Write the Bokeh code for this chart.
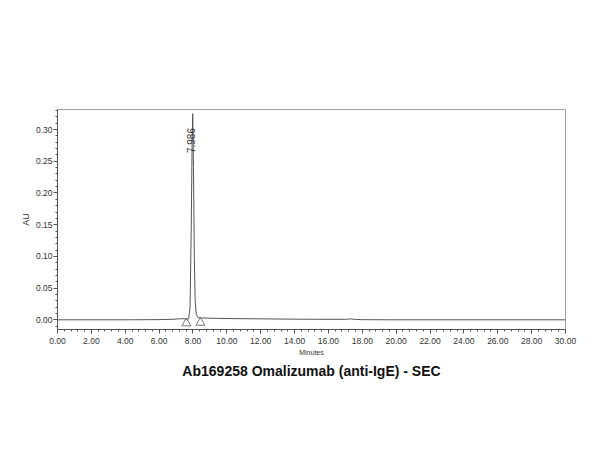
from bokeh.plotting import figure
from bokeh.models import SingleIntervalTicker, NumeralTickFormatter, Title
from bokeh.core.properties import value
from bokeh.embed import file_html
from bokeh.resources import INLINE

# chromatogram data (minutes, AU)
minutes = [0.0, 2.0, 4.0, 6.0, 6.8, 7.2, 7.4, 7.6, 7.75, 7.83, 7.9, 7.95, 7.986, 8.03, 8.08, 8.13, 8.2, 8.3,
           8.5, 9.0, 10.0, 12.0, 14.0, 15.5, 17.0, 17.3, 17.6, 18.0, 20.0, 30.0]
au = [0.000, 0.000, 0.000, 0.0003, 0.0008, 0.0015, 0.0018, 0.0010, 0.0015, 0.02, 0.15, 0.28, 0.325, 0.24,
      0.10, 0.03, 0.008, 0.0035, 0.003, 0.0025, 0.002, 0.0015, 0.001, 0.0008, 0.0008, 0.0014, 0.0006,
      0.0002, 0.0, 0.0]

peak_time = [7.986]
peak_label = ["7.986"]
marker_times = [7.61, 8.44]
marker_au = [-0.0055, -0.0045]

title_text = "Ab169258 Omalizumab (anti-IgE) - SEC"
x_label = "Minutes"
y_label = "AU"

W, H = 584, 434
p = figure(width=W, height=H, x_range=(0, 30), y_range=(-0.0153, 0.3317),
           output_backend="svg", toolbar_location=None,
           min_border_left=57, min_border_right=W - 565, min_border_top=109, min_border_bottom=H - 329)
p.background_fill_color = "white"
p.border_fill_color = "white"
p.outline_line_color = "#a0a0a0"
p.outline_line_width = 1
p.xgrid.visible = False
p.ygrid.visible = False

p.line(minutes, au, line_color="#555555", line_width=1)

p.scatter(marker_times, marker_au, marker="triangle", size=9, fill_color=None,
          line_color="#555555", line_width=0.8)

p.text(x=[t - 0.08 for t in peak_time], y=[0.263], text=peak_label, angle=1.5708,
       text_font=value("Liberation Sans"), text_font_size="10px", text_color="#333333",
       text_align="left", text_baseline="middle")

for ax in (p.xaxis[0], p.yaxis[0]):
    ax.axis_line_color = "#555555"
    ax.major_tick_line_color = "#555555"
    ax.minor_tick_line_color = "#555555"
    ax.major_tick_out = 4
    ax.major_tick_in = 0
    ax.minor_tick_out = 2
    ax.minor_tick_in = 0
    ax.major_label_text_font = "Liberation Sans"
    ax.major_label_text_font_size = "8.5px"
    ax.major_label_text_color = "#333333"
    ax.axis_label_text_font = "Liberation Sans"
    ax.axis_label_text_font_style = "normal"
    ax.axis_label_text_color = "#333333"
    ax.formatter = NumeralTickFormatter(format="0.00")

p.xaxis[0].ticker = SingleIntervalTicker(interval=2, num_minor_ticks=5)
p.yaxis[0].ticker = SingleIntervalTicker(interval=0.05, num_minor_ticks=5)
p.xaxis[0].axis_label = x_label
p.xaxis[0].axis_label_text_font_size = "7px"
p.xaxis[0].axis_label_standoff = 2
p.xaxis[0].major_label_standoff = 4
p.yaxis[0].major_label_standoff = 1
p.yaxis[0].axis_label = y_label
p.yaxis[0].axis_label_text_font_size = "9px"
p.yaxis[0].axis_label_standoff = 2

t = Title(text=title_text, align="center", text_font="Liberation Sans", text_font_size="14px",
          text_font_style="bold", text_color="#111111", standoff=4)
p.add_layout(t, "below")

open("out.html", "w").write(file_html(p, INLINE))
